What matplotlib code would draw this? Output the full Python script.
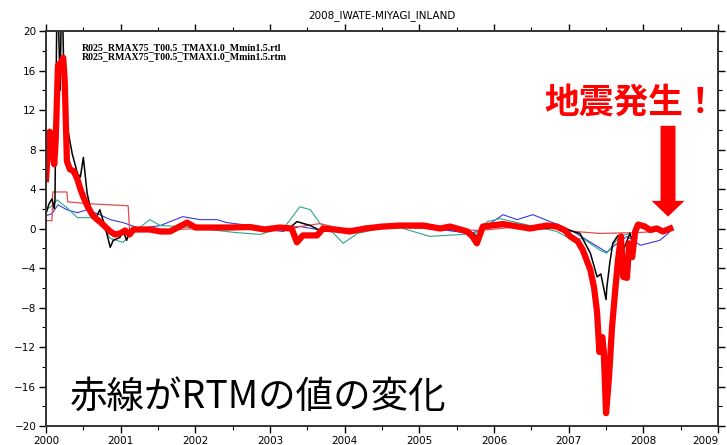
import matplotlib
matplotlib.use("Agg")
import matplotlib.pyplot as plt
from matplotlib.ticker import MultipleLocator

# RTM (thick red)
rtm_t = [2000.00, 2000.03, 2000.05, 2000.08, 2000.11, 2000.13, 2000.16, 2000.20, 2000.23, 2000.25,
         2000.28, 2000.32, 2000.37, 2000.42, 2000.46, 2000.51, 2000.56, 2000.62, 2000.67, 2000.72,
         2000.79, 2000.86, 2000.92, 2000.99, 2001.06, 2001.12, 2001.17, 2001.26, 2001.39, 2001.53,
         2001.66, 2001.79, 2001.89, 2002.00, 2002.20, 2002.46, 2002.73, 2002.93, 2003.13, 2003.29,
         2003.36, 2003.44, 2003.63, 2003.71, 2003.87, 2004.07, 2004.27, 2004.51, 2004.74, 2005.05,
         2005.28, 2005.41, 2005.64, 2005.71, 2005.77, 2005.85, 2006.12, 2006.48, 2006.71, 2006.84,
         2006.95, 2007.02, 2007.12, 2007.19, 2007.29, 2007.34, 2007.38, 2007.41, 2007.45, 2007.47,
         2007.50, 2007.54, 2007.58, 2007.62, 2007.66, 2007.70, 2007.73, 2007.78, 2007.81, 2007.85,
         2007.89, 2007.93, 2008.02, 2008.09, 2008.18, 2008.26, 2008.36]
rtm_v = [5.0, 8.5, 9.8, 8.0, 6.5, 9.0, 16.5, 16.8, 17.3, 15.0,
         6.8, 6.0, 5.8, 5.0, 4.0, 3.0, 2.2, 1.4, 1.0, 0.7,
         0.2, -0.3, -0.6, -0.5, -0.2, -0.6, -0.1, -0.1, -0.1, -0.3,
         -0.3, 0.2, 0.6, 0.1, 0.1, 0.1, 0.15, -0.1, 0.1, 0.0,
         -1.4, -0.7, -0.7, 0.0, -0.1, -0.3, 0.0, 0.2, 0.3, 0.3,
         0.0, 0.2, -0.3, -0.8, -1.5, 0.2, 0.45, 0.0, 0.3, 0.2,
         -0.2, -0.8, -1.3, -2.2, -4.2, -6.0, -8.5, -12.5, -11.0, -12.5,
         -18.7, -15.0, -10.0, -6.5, -3.2, -0.8, -4.9, -5.0, -1.5, -2.9,
         -0.3, 0.4, 0.2, -0.15, 0.0, -0.3, 0.0]

# RTL (thin black)
rtl_t = [2000.00, 2000.04, 2000.08, 2000.11, 2000.12, 2000.15, 2000.19, 2000.21, 2000.25, 2000.35,
         2000.42, 2000.46, 2000.50, 2000.55, 2000.59, 2000.66, 2000.72, 2000.79, 2000.86, 2000.90,
         2000.99, 2001.03, 2001.08, 2001.12, 2001.26, 2001.66, 2001.89, 2002.06, 2002.73, 2003.27,
         2003.36, 2003.54, 2003.67, 2003.94, 2004.47, 2005.01, 2005.68, 2005.77, 2005.85, 2006.08,
         2006.48, 2006.88, 2007.15, 2007.29, 2007.38, 2007.43, 2007.50, 2007.51, 2007.55, 2007.59,
         2007.66, 2007.73, 2007.82, 2007.85]
rtl_v = [1.5, 2.5, 3.0, 2.0, 2.9, 26.0, 14.0, 26.0, 11.7, 7.6,
         5.6, 5.2, 7.2, 3.6, 2.2, 0.9, 1.9, 0.2, -1.9, -1.2,
         -0.9, -0.2, -1.2, -0.2, -0.1, -0.2, 0.4, 0.0, 0.0, 0.1,
         0.7, 0.3, -0.2, -0.3, 0.1, 0.2, -0.3, -0.8, 0.0, 0.3,
         -0.1, 0.1, -0.5, -2.5, -4.9, -4.6, -7.2, -6.0, -3.5, -1.5,
         -0.7, -2.2, -0.5, -1.2]

# blue component
blue_t = [2000.00, 2000.08, 2000.16, 2000.28, 2000.42, 2000.55, 2000.72, 2000.86, 2001.03, 2001.26,
          2001.53, 2001.73, 2001.83, 2002.06, 2002.29, 2002.42, 2002.73, 2002.96, 2003.17, 2003.40,
          2003.80, 2004.21, 2004.74, 2005.28, 2005.68, 2005.81, 2006.12, 2006.31, 2006.52, 2006.75,
          2006.92, 2007.06, 2007.25, 2007.51, 2007.65, 2007.78, 2007.96, 2008.22, 2008.36]
blue_v = [1.3, 1.5, 2.4, 1.9, 1.6, 1.9, 1.4, 0.9, 0.6, 0.0,
          0.3, 0.9, 1.2, 0.9, 0.9, 0.6, 0.3, -0.1, -0.3, 0.2,
          -0.3, -0.2, 0.2, -0.1, -0.5, -0.2, 1.4, 0.9, 1.4, 0.7,
          0.2, -0.3, -1.2, -2.4, -1.5, -0.8, -1.7, -1.2, -0.3]

# green component
green_t = [2000.00, 2000.08, 2000.15, 2000.28, 2000.42, 2000.59, 2000.72, 2000.86, 2001.03, 2001.17,
           2001.39, 2001.53, 2001.79, 2002.06, 2002.53, 2002.87, 2003.20, 2003.40, 2003.54, 2003.67,
           2003.84, 2003.98, 2004.17, 2004.47, 2004.74, 2005.14, 2005.58, 2005.75, 2005.91, 2006.08,
           2006.48, 2006.84, 2007.06, 2007.19, 2007.42, 2007.51, 2007.68, 2007.82]
green_v = [1.9, 2.3, 2.9, 2.1, 1.1, 1.1, 0.7, -1.0, -1.4, -0.4,
           0.9, 0.3, 0.2, 0.0, -0.4, -0.6, 0.2, 2.2, 1.9, 0.5,
           -0.4, -1.5, -0.5, 0.0, 0.1, -0.8, -0.6, -0.5, 0.7, 1.0,
           0.3, -0.3, -1.2, -1.0, -2.2, -2.5, -0.8, -0.5]

# thin red component
red2_t = [2000.00, 2000.08, 2000.09, 2000.28, 2000.29, 2000.59, 2000.86, 2001.10, 2001.12, 2001.39,
          2002.06, 2003.40, 2003.67, 2003.94, 2004.74, 2005.81, 2006.35, 2006.88, 2007.08, 2007.42,
          2007.96, 2008.36]
red2_v = [0.8, 0.8, 3.7, 3.7, 2.7, 2.5, 2.4, 2.3, -0.3, -0.2,
          0.0, 0.2, 0.5, 0.0, 0.1, -0.2, 0.2, 0.0, -0.3, -0.5,
          -0.4, -0.2]

year_ticks = list(range(2000, 2010))

fig = plt.figure(figsize=(7.27, 4.45), dpi=100)
ax = fig.add_axes([0.0633, 0.0427, 0.9244, 0.8876])

ax.plot(blue_t, blue_v, color="#3a3ad8", lw=0.8)
ax.plot(green_t, green_v, color="#2ca58c", lw=0.8)
ax.plot(red2_t, red2_v, color="#e84a4a", lw=0.9)
ax.plot(rtl_t, rtl_v, color="black", lw=1.1)
ax.plot(rtm_t, rtm_v, color="#ff0000", lw=4.5, solid_joinstyle="round")

ax.set_xlim(2000, 2009)
ax.set_ylim(-20, 20)
ax.set_xticks(year_ticks)
ax.set_xticklabels([str(y) for y in year_ticks])
ax.xaxis.set_minor_locator(MultipleLocator(0.5))
ax.yaxis.set_major_locator(MultipleLocator(4))
ax.yaxis.set_minor_locator(MultipleLocator(2))
ax.tick_params(which="both", direction="out", top=True, right=True, labelsize=7.5, pad=2)
ax.tick_params(which="major", length=5, width=1)
ax.tick_params(which="minor", length=3, width=0.8)
for s in ax.spines.values():
    s.set_linewidth(1.4)
    s.set_color("#333333")
# last year label sits at the very edge of the figure
ax.get_xticklabels()[-1].set_horizontalalignment("right")
ax.get_xticklabels()[-1].set_x(2009.1)

ax.set_title("2008_IWATE-MIYAGI_INLAND", fontsize=7.5, pad=9)

ax.text(2000.48, 18.3, "R025_RMAX75_T00.5_TMAX1.0_Mmin1.5.rtl", family="Liberation Serif",
        fontsize=7.1, fontweight="bold", va="center")
ax.text(2000.48, 17.4, "R025_RMAX75_T00.5_TMAX1.0_Mmin1.5.rtm", family="Liberation Serif",
        fontsize=7.1, fontweight="bold", va="center")

ax.text(2006.68, 12.8, "地震発生！", family=["Noto Sans CJK JP", "DejaVu Sans"], fontsize=25,
        fontweight="bold", color="#ff0000", va="center", ha="left", clip_on=False)
ax.text(2000.32, -17.1, "赤線がRTMの値の変化", family=["Noto Sans CJK JP", "DejaVu Sans"],
        fontsize=27, color="black", va="center", ha="left")

ax.arrow(2008.33, 10.4, 0, -9.2, width=0.2, head_width=0.44, head_length=1.6,
         length_includes_head=True, color="#ff0000", lw=0)

fig.savefig("out.png", dpi=100)
